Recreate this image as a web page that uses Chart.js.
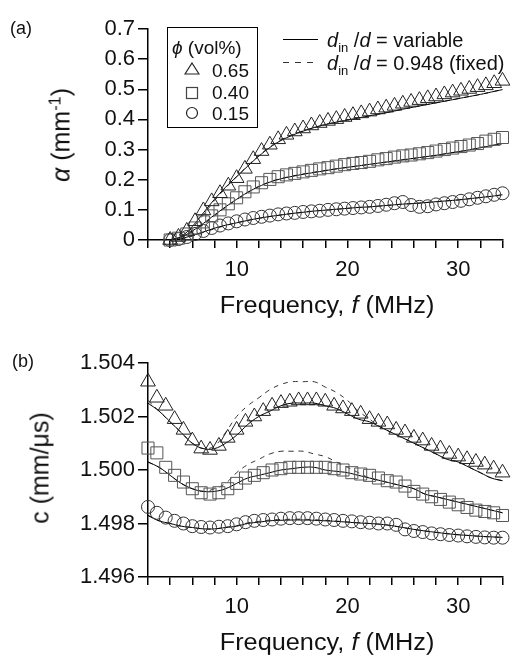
<!DOCTYPE html>
<html>
<head>
<meta charset="utf-8">
<script src="https://cdn.jsdelivr.net/npm/chart.js@4.4.1/dist/chart.umd.min.js"></script>
<style>
  body { margin: 0; background: #fff; width: 512px; height: 657px; position: relative; overflow: hidden;
         font-family: "Liberation Sans", Arial, sans-serif; color: #111; }
  .wrap { position: absolute; left: 0; width: 512px; }
  #wa { top: 0; height: 320px; }
  #wb { top: 320px; height: 337px; }
  .t { position: absolute; white-space: nowrap; line-height: 1; }
  .rot { transform: translate(-50%, -50%) rotate(-90deg); }
  .ctr { transform: translate(-50%, -50%) scaleX(1.1); }
  sup, sub { font-size: 65%; line-height: 0; }
  #legbox { position: absolute; left: 167px; top: 27px; width: 89px; height: 99px; border: 1.5px solid #000; }
</style>
</head>
<body>
<div class="wrap" id="wa"><canvas id="chartA"></canvas></div>
<div class="wrap" id="wb"><canvas id="chartB"></canvas></div>

<div class="t" style="left:10px;top:19px;font-size:18px;">(a)</div>
<div class="t" style="left:12px;top:352px;font-size:18px;">(b)</div>

<div class="t rot" style="left:61px;top:135px;font-size:25px;"><i>α</i> (mm<sup>-1</sup>)</div>
<div class="t rot" style="left:40px;top:468px;font-size:25px;">c (mm/μs)</div>

<div class="t ctr" style="left:327px;top:305px;font-size:23px;">Frequency, <i>f</i> (MHz)</div>
<div class="t ctr" style="left:327px;top:642px;font-size:23px;">Frequency, <i>f</i> (MHz)</div>

<div id="legbox"></div>
<div class="t" style="left:172px;top:38px;font-size:19px;"><i>ϕ</i> (vol%)</div>
<svg style="position:absolute;left:184px;top:62px" width="16" height="60">
  <polygon points="8,1 15,12 1,12" fill="none" stroke="#222" stroke-width="1.2"/>
  <rect x="2.5" y="25.5" width="11" height="11" fill="none" stroke="#444" stroke-width="1.2"/>
  <circle cx="8" cy="51" r="5.5" fill="none" stroke="#222" stroke-width="1.2"/>
</svg>
<div class="t" style="left:212px;top:61px;font-size:19px;">0.65</div>
<div class="t" style="left:212px;top:83px;font-size:19px;">0.40</div>
<div class="t" style="left:212px;top:104px;font-size:19px;">0.15</div>

<svg style="position:absolute;left:283px;top:34px" width="36" height="34">
  <line x1="0" y1="5.5" x2="35" y2="5.5" stroke="#000" stroke-width="1"/>
  <line x1="0" y1="28.5" x2="35" y2="28.5" stroke="#333" stroke-width="1" stroke-dasharray="6,6"/>
</svg>
<div class="t" style="left:327px;top:30px;font-size:20px;"><i>d</i><sub>in</sub> /<i>d</i> = variable</div>
<div class="t" style="left:327px;top:53px;font-size:20px;"><i>d</i><sub>in</sub> /<i>d</i> = 0.948 (fixed)</div>

<script>
// (a) attenuation, markers
const freqA = [4,4.75,5.5,6.25,7,7.75,8.5,9.25,10,10.75,11.5,12.25,13,13.75,14.5,15.25,16,16.75,17.5,18.25,19,19.75,20.5,21.25,22,22.75,23.5,24.25,25,25.75,26.5,27.25,28,28.75,29.5,30.25,31,31.75,32.5,33.25,34];
const alphaTri = [0.000,0.010,0.030,0.062,0.098,0.128,0.155,0.180,0.205,0.236,0.268,0.295,0.316,0.334,0.349,0.360,0.370,0.380,0.388,0.395,0.401,0.408,0.414,0.420,0.426,0.433,0.439,0.445,0.452,0.458,0.464,0.470,0.476,0.483,0.489,0.495,0.501,0.507,0.513,0.520,0.528];
const alphaSq = [0.000,0.006,0.020,0.040,0.060,0.080,0.100,0.120,0.140,0.160,0.176,0.190,0.201,0.210,0.216,0.221,0.226,0.231,0.236,0.240,0.245,0.250,0.254,0.257,0.261,0.266,0.270,0.275,0.279,0.282,0.286,0.290,0.295,0.300,0.305,0.310,0.315,0.320,0.328,0.334,0.340];
const alphaCirc = [0.000,0.003,0.010,0.020,0.030,0.040,0.048,0.055,0.062,0.068,0.073,0.077,0.081,0.085,0.088,0.090,0.093,0.095,0.097,0.100,0.102,0.104,0.106,0.108,0.110,0.113,0.117,0.122,0.126,0.116,0.110,0.112,0.118,0.122,0.126,0.130,0.135,0.140,0.145,0.150,0.155];

// (a) fitted curves
const fitFreqA = [4,5,6,7,8,9,10,11,12,13,14,15,16,17,18,19,20,21,22,23,24,25,26,27,28,29,30,31,32,33,34];
const fitTriA = [0.000,0.012,0.045,0.090,0.135,0.175,0.210,0.245,0.278,0.307,0.330,0.347,0.361,0.373,0.383,0.391,0.398,0.405,0.412,0.419,0.426,0.434,0.441,0.448,0.455,0.462,0.469,0.476,0.483,0.491,0.499];
const dashTriA = [0.000,0.010,0.040,0.084,0.130,0.172,0.210,0.246,0.280,0.309,0.332,0.349,0.362,0.373,0.383,0.391,0.398,0.405,0.412,0.419,0.426,0.434,0.441,0.448,0.455,0.462,0.469,0.476,0.483,0.491,0.499];
const fitSqA = [0.000,0.010,0.030,0.055,0.083,0.110,0.135,0.158,0.177,0.192,0.203,0.211,0.218,0.224,0.230,0.236,0.241,0.246,0.251,0.256,0.261,0.266,0.271,0.276,0.281,0.287,0.293,0.299,0.306,0.313,0.320];
const dashSqA = [0.000,0.008,0.027,0.052,0.080,0.108,0.134,0.158,0.178,0.193,0.204,0.212,0.219,0.225,0.231,0.236,0.241,0.246,0.251,0.256,0.261,0.266,0.271,0.276,0.281,0.287,0.293,0.299,0.306,0.313,0.320];
const fitCircA = [0.000,0.005,0.015,0.027,0.039,0.049,0.057,0.065,0.072,0.078,0.083,0.088,0.092,0.096,0.099,0.102,0.105,0.108,0.110,0.113,0.116,0.119,0.121,0.124,0.127,0.130,0.133,0.137,0.141,0.145,0.150];
const dashCircA = [0.000,0.004,0.013,0.025,0.037,0.048,0.057,0.065,0.072,0.078,0.083,0.088,0.092,0.096,0.099,0.102,0.105,0.108,0.110,0.113,0.116,0.119,0.121,0.124,0.127,0.130,0.133,0.137,0.141,0.145,0.150];

// (b) sound speed, markers
const freqB = [2,2.8,3.6,4.4,5.2,6,6.8,7.6,8.4,9.2,10,10.8,11.6,12.4,13.2,14,14.8,15.6,16.4,17.2,18,18.8,19.6,20.4,21.2,22,22.8,23.6,24.4,25.2,26,26.8,27.6,28.4,29.2,30,30.8,31.6,32.4,33.2,34];
const cTri = [1.5033,1.5027,1.5024,1.5019,1.5015,1.5011,1.5008,1.50075,1.5009,1.5012,1.5015,1.5018,1.5020,1.5022,1.5024,1.5025,1.50255,1.5026,1.5026,1.5026,1.50255,1.5024,1.5023,1.5022,1.5021,1.5019,1.5018,1.5017,1.5015,1.5014,1.5012,1.5011,1.5009,1.5008,1.5006,1.5005,1.5004,1.5003,1.5002,1.50005,1.4999];
const cSq = [1.50082,1.50064,1.5001,1.4998,1.49955,1.4993,1.49915,1.4991,1.49915,1.4993,1.4995,1.4997,1.4998,1.4999,1.5000,1.50005,1.5001,1.5001,1.5001,1.5001,1.5001,1.50005,1.5000,1.4999,1.49985,1.4998,1.4997,1.4996,1.49955,1.4994,1.4992,1.4991,1.4990,1.4989,1.4988,1.4987,1.4986,1.4985,1.49845,1.4984,1.4983];
const cCirc = [1.49862,1.4984,1.49822,1.4981,1.4980,1.4979,1.49787,1.49785,1.49788,1.4979,1.49797,1.49805,1.4981,1.49813,1.49815,1.49818,1.4982,1.4982,1.4982,1.49818,1.49815,1.49813,1.4981,1.49808,1.49805,1.49803,1.4980,1.4980,1.49795,1.49778,1.49772,1.49768,1.49763,1.4976,1.49757,1.49755,1.49752,1.4975,1.49748,1.49747,1.49747];

// (b) fitted curves
const fitFreqB = [2,3,4,5,6,7,8,9,10,11,12,13,14,15,16,17,18,19,20,21,22,23,24,25,26,27,28,29,30,31,32,33,34];
const fitTriB = [1.5025,1.5022,1.5018,1.5014,1.5010,1.5008,1.5008,1.5010,1.5013,1.5017,1.5020,1.5022,1.5024,1.5025,1.5025,1.5025,1.5024,1.5023,1.5021,1.5019,1.5018,1.5016,1.5014,1.5012,1.5010,1.5008,1.5006,1.5004,1.5003,1.5001,1.4999,1.4997,1.4996];
const dashTriB = [1.5026,1.5022,1.5018,1.5014,1.5010,1.5008,1.5009,1.5014,1.5020,1.5024,1.5027,1.5030,1.5032,1.5033,1.5033,1.5033,1.5031,1.5029,1.5026,1.5022,1.5019,1.5016,1.5014,1.5012,1.5010,1.5008,1.5006,1.5004,1.5003,1.5001,1.4999,1.4997,1.4996];
const fitSqB = [1.5003,1.5001,1.4998,1.4995,1.4993,1.4992,1.4992,1.4993,1.4995,1.4997,1.4998,1.4999,1.5000,1.50005,1.5001,1.5001,1.5000,1.49995,1.4999,1.4998,1.4997,1.4996,1.4995,1.4994,1.4993,1.4991,1.4990,1.4989,1.4988,1.4987,1.4986,1.4985,1.4984];
const dashSqB = [1.5003,1.5001,1.4998,1.4995,1.4993,1.4992,1.4993,1.4995,1.4999,1.5002,1.5004,1.5006,1.5007,1.5007,1.5007,1.5006,1.5005,1.5003,1.5001,1.4999,1.4997,1.4996,1.4995,1.4994,1.4993,1.4991,1.4990,1.4989,1.4988,1.4987,1.4986,1.4985,1.4984];
const fitCircB = [1.4983,1.4981,1.4980,1.4979,1.49785,1.4978,1.4978,1.49785,1.4979,1.4980,1.49805,1.4981,1.49812,1.49813,1.49813,1.49812,1.4981,1.49808,1.49805,1.49802,1.4980,1.49797,1.49792,1.49785,1.49778,1.49772,1.49767,1.49762,1.49758,1.49755,1.49752,1.4975,1.49748];
const dashCircB = [1.4983,1.4981,1.4980,1.4979,1.49785,1.4978,1.4978,1.49786,1.49792,1.49802,1.49808,1.49813,1.49815,1.49816,1.49816,1.49814,1.49812,1.49809,1.49806,1.49803,1.4980,1.49797,1.49792,1.49785,1.49778,1.49772,1.49767,1.49762,1.49758,1.49755,1.49752,1.4975,1.49748];

const pts = (xs, ys) => xs.map((x, i) => ({ x: x, y: ys[i] }));

function markers(xs, ys, style, r, color) {
    return {
        data: pts(xs, ys),
        showLine: false,
        pointStyle: style,
        pointRadius: r,
        borderColor: color,
        backgroundColor: 'rgba(255,255,255,0)',
        pointBorderWidth: 1,
        clip: false
    };
}

function curve(xs, ys, dashed) {
    return {
        data: pts(xs, ys),
        showLine: true,
        pointRadius: 0,
        borderColor: dashed ? '#333' : '#000',
        borderWidth: 1,
        borderDash: dashed ? [5, 5] : [],
        tension: 0.4,
        clip: false
    };
}

function makeChart(id, datasets, yOpts, padTop) {
    const tickFont = { family: 'Liberation Sans', size: 22 };
    return new Chart(document.getElementById(id), {
        type: 'scatter',
        data: { datasets: datasets },
        options: {
            responsive: true,
            maintainAspectRatio: false,
            animation: false,
            layout: { padding: { top: padTop, right: 7, bottom: 0, left: 0 } },
            plugins: { legend: { display: false }, tooltip: { enabled: false } },
            scales: {
                x: {
                    type: 'linear', min: 2, max: 34,
                    ticks: {
                        stepSize: 2, autoSkip: false, maxRotation: 0, color: '#111', font: tickFont, padding: 9,
                        callback: v => (v % 10 === 0 ? v : '')
                    },
                    grid: { drawOnChartArea: false, drawTicks: true, tickLength: 8, color: '#000', lineWidth: 1.5 },
                    border: { display: true, color: '#000', width: 1.5 },
                    afterFit: s => { s.height = 80; }
                },
                y: Object.assign({
                    grid: { drawOnChartArea: false, drawTicks: true, tickLength: 10, color: '#000', lineWidth: 1.5 },
                    border: { display: true, color: '#000', width: 1.5 },
                    afterFit: s => { s.width = 148; }
                }, yOpts)
            }
        }
    });
}

makeChart('chartA', [
    markers(freqA, alphaTri, 'triangle', 8.5, '#222'),
    markers(freqA, alphaSq, 'rect', 8.5, '#555'),
    markers(freqA, alphaCirc, 'circle', 6.5, '#333'),
    curve(fitFreqA, fitTriA, false), curve(fitFreqA, dashTriA, true),
    curve(fitFreqA, fitSqA, false), curve(fitFreqA, dashSqA, true),
    curve(fitFreqA, fitCircA, false), curve(fitFreqA, dashCircA, true)
], {
    min: 0, max: 0.7,
    ticks: { stepSize: 0.1, padding: 3, color: '#111', font: { family: 'Liberation Sans', size: 22 },
             callback: v => (v === 0 ? '0' : v.toFixed(1)) }
}, 29);

makeChart('chartB', [
    markers(freqB, cTri, 'triangle', 8.5, '#222'),
    markers(freqB, cSq, 'rect', 8.5, '#555'),
    markers(freqB, cCirc, 'circle', 6.5, '#333'),
    curve(fitFreqB, fitTriB, false), curve(fitFreqB, dashTriB, true),
    curve(fitFreqB, fitSqB, false), curve(fitFreqB, dashSqB, true),
    curve(fitFreqB, fitCircB, false), curve(fitFreqB, dashCircB, true)
], {
    min: 1.496, max: 1.504,
    ticks: { stepSize: 0.002, padding: 3, color: '#111', font: { family: 'Liberation Sans', size: 22 },
             callback: v => v.toFixed(3) }
}, 43);
</script>
</body>
</html>
